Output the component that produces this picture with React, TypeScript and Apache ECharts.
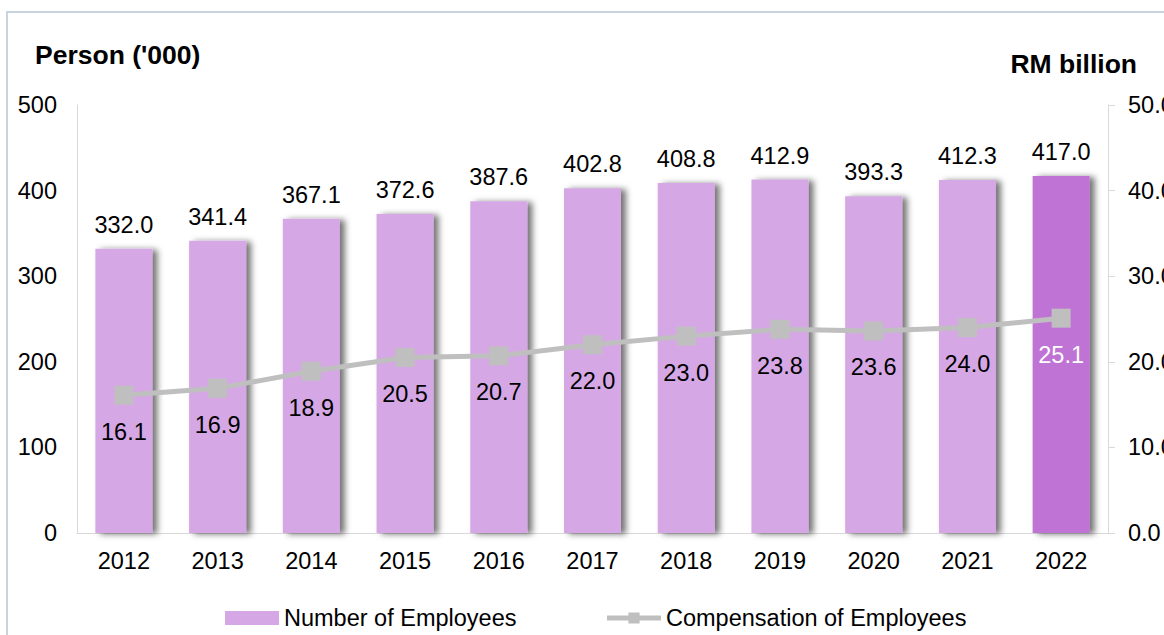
import React, { useEffect, useRef } from "react";
import * as echarts from "echarts";

const years = ["2012", "2013", "2014", "2015", "2016", "2017", "2018", "2019", "2020", "2021", "2022"];
const employees = [332.0, 341.4, 367.1, 372.6, 387.6, 402.8, 408.8, 412.9, 393.3, 412.3, 417.0];
const compensation = [16.1, 16.9, 18.9, 20.5, 20.7, 22.0, 23.0, 23.8, 23.6, 24.0, 25.1];
const leftTitle = "Person ('000)";
const rightTitle = "RM billion";
const barName = "Number of Employees";
const lineName = "Compensation of Employees";

const FONT = "'Liberation Sans', Arial, sans-serif";
const LIGHT = "#d5a8e5";
const DARK = "#bf73d5";
const GRAY = "#bfbfbf";
const FS = 23.5;

export default function App() {
  const ref = useRef<HTMLDivElement>(null);
  useEffect(() => {
    document.body.style.margin = "0";
    const chart = echarts.init(ref.current!, undefined, { renderer: "svg" });
    const last = years.length - 1;
    chart.setOption({
      animation: false,
      textStyle: { fontFamily: FONT, color: "#000" },
      graphic: [
        {
          type: "rect",
          shape: { x: 7, y: 12, width: 1300, height: 800 },
          style: { fill: "none", stroke: "#c9d4e0", lineWidth: 2 },
          silent: true,
          z: -10,
        },
      ],
      title: [
        {
          text: leftTitle,
          left: 30,
          top: 36,
          padding: 5,
          textStyle: { fontFamily: FONT, fontSize: 26.5, fontWeight: "bold", color: "#000" },
        },
        {
          text: rightTitle,
          right: 22,
          top: 45,
          padding: 5,
          textStyle: { fontFamily: FONT, fontSize: 26.5, fontWeight: "bold", color: "#000" },
        },
      ],
      legend: {
        left: 220,
        top: 601,
        itemWidth: 54,
        itemHeight: 14,
        itemGap: 88,
        textStyle: { fontFamily: FONT, fontSize: FS, color: "#000" },
        data: [
          { name: barName, icon: "rect" },
          { name: lineName, lineStyle: { width: 5, color: GRAY } },
        ],
      },
      grid: { left: 77, right: 56, top: 105, bottom: 102, outerBoundsMode: "none", containLabel: false },
      xAxis: {
        type: "category",
        data: years,
        axisLine: { show: true, lineStyle: { color: "#d9d9d9", width: 1 } },
        axisTick: { show: false },
        axisLabel: { fontFamily: FONT, fontSize: FS, color: "#000", margin: 16 },
      },
      yAxis: [
        {
          type: "value",
          min: 0,
          max: 500,
          interval: 100,
          axisLine: { show: true, lineStyle: { color: "#d9d9d9" } },
          axisTick: { show: false },
          splitLine: { show: false },
          axisLabel: { fontFamily: FONT, fontSize: FS, color: "#000", margin: 20 },
        },
        {
          type: "value",
          min: 0,
          max: 50,
          interval: 10,
          position: "right",
          axisLine: { show: true, lineStyle: { color: "#d9d9d9" } },
          axisTick: { show: true, length: 7, lineStyle: { color: "#d9d9d9" } },
          splitLine: { show: false },
          axisLabel: {
            fontFamily: FONT,
            fontSize: FS,
            color: "#000",
            margin: 20,
            formatter: (v: number) => v.toFixed(1),
          },
        },
      ],
      series: [
        {
          name: barName,
          type: "bar",
          yAxisIndex: 0,
          barWidth: 57,
          itemStyle: {
            color: LIGHT,
            shadowColor: "rgba(0,0,0,0.55)",
            shadowBlur: 6,
            shadowOffsetX: 5,
            shadowOffsetY: 1,
          },
          label: {
            show: true,
            position: "top",
            distance: 12,
            fontFamily: FONT,
            fontSize: FS,
            color: "#000",
            formatter: (p: any) => Number(p.value).toFixed(1),
          },
          data: employees.map((v, i) =>
            i === last ? { value: v, itemStyle: { color: DARK } } : v
          ),
          z: 2,
        },
        {
          name: lineName,
          type: "line",
          yAxisIndex: 1,
          symbol: "rect",
          symbolSize: 19,
          color: GRAY,
          lineStyle: { color: GRAY, width: 5 },
          itemStyle: { color: GRAY },
          label: {
            show: true,
            position: "bottom",
            distance: 15,
            fontFamily: FONT,
            fontSize: FS,
            color: "#000",
            formatter: (p: any) => Number(p.value).toFixed(1),
          },
          data: compensation.map((v, i) =>
            i === last ? { value: v, label: { color: "#fff" } } : v
          ),
          z: 3,
        },
      ],
    });
    return () => chart.dispose();
  }, []);
  return <div ref={ref} style={{ width: 1164, height: 635 }} />;
}
